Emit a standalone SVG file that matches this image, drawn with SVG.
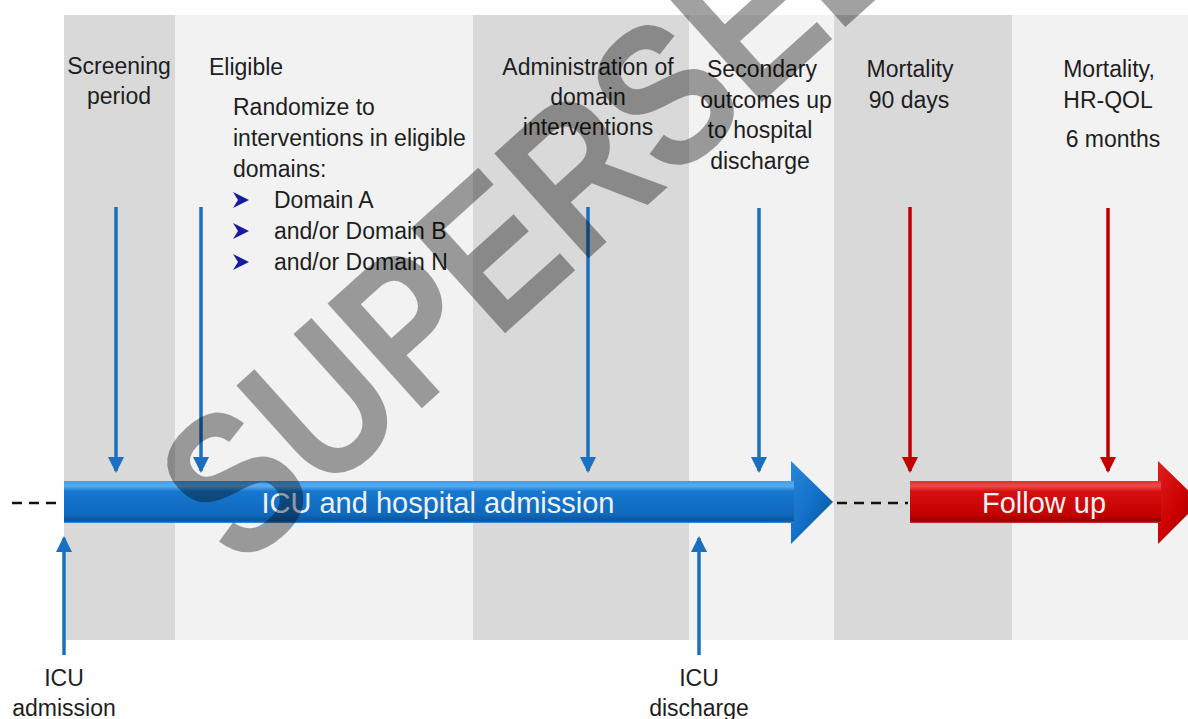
<svg xmlns="http://www.w3.org/2000/svg" width="1188" height="719" viewBox="0 0 1188 719">
<style>
.t{font-family:"Liberation Sans",Arial,sans-serif;font-size:23px;fill:#1e1e1e}
.c{text-anchor:middle}
.big{font-family:"Liberation Sans",Arial,sans-serif;font-size:29px;fill:#f0f2f4;text-anchor:middle}
.dk{fill:#d9d9d9}
.lt{fill:#f2f2f2}
.vb{stroke:#1a6fc0;stroke-width:3.5;fill:none}
.vr{stroke:#c00000;stroke-width:3.5;fill:none}
.dash{stroke:#111;stroke-width:2.5;stroke-dasharray:10 7;fill:none}
.bul{fill:#1a1a9c}
.wm{font-family:"Liberation Sans",Arial,sans-serif;font-weight:bold;font-size:205px;fill:#000;fill-opacity:0.37}
</style>
<defs>
<marker id="ab" viewBox="0 0 16 16" refX="14" refY="8" markerWidth="16" markerHeight="16" markerUnits="userSpaceOnUse" orient="auto">
<path d="M0,0 L16,8 L0,16 Z" fill="#1a6fc0"/>
</marker>
<marker id="ar" viewBox="0 0 16 16" refX="14" refY="8" markerWidth="16" markerHeight="16" markerUnits="userSpaceOnUse" orient="auto">
<path d="M0,0 L16,8 L0,16 Z" fill="#c00000"/>
</marker>
<linearGradient id="gb" x1="0" y1="481" x2="0" y2="523" gradientUnits="userSpaceOnUse">
<stop offset="0" stop-color="#3f9be6"/>
<stop offset="0.12" stop-color="#5aaced"/>
<stop offset="0.25" stop-color="#1677cf"/>
<stop offset="0.8" stop-color="#1069bd"/>
<stop offset="0.95" stop-color="#0a559f"/>
<stop offset="1" stop-color="#3a8fd8"/>
</linearGradient>
<linearGradient id="gbh" x1="0" y1="0" x2="1" y2="1">
<stop offset="0" stop-color="#2a86d8"/>
<stop offset="0.5" stop-color="#1170c8"/>
<stop offset="1" stop-color="#0a4f92"/>
</linearGradient>
<linearGradient id="gr" x1="0" y1="481" x2="0" y2="523" gradientUnits="userSpaceOnUse">
<stop offset="0" stop-color="#e03030"/>
<stop offset="0.12" stop-color="#ee4a4a"/>
<stop offset="0.25" stop-color="#d60f0f"/>
<stop offset="0.8" stop-color="#c40000"/>
<stop offset="0.95" stop-color="#990000"/>
<stop offset="1" stop-color="#d03030"/>
</linearGradient>
<linearGradient id="grh" x1="0" y1="0" x2="1" y2="1">
<stop offset="0" stop-color="#e02020"/>
<stop offset="0.5" stop-color="#cc0000"/>
<stop offset="1" stop-color="#8a0000"/>
</linearGradient>
</defs>
<rect width="1188" height="719" fill="#ffffff"/>
<g id="bands">
<rect class="dk" x="64" y="15" width="111" height="625"/>
<rect class="lt" x="175" y="15" width="298" height="625"/>
<rect class="dk" x="473" y="15" width="216" height="625"/>
<rect class="lt" x="689" y="15" width="145" height="625"/>
<rect class="dk" x="834" y="15" width="178" height="625"/>
<rect class="lt" x="1012" y="15" width="176" height="625"/>
</g>
<g id="connectors">
<line class="dash" x1="12" y1="503" x2="62" y2="503"/>
<line class="dash" x1="837" y1="503" x2="908" y2="503"/>
<line class="vb" x1="116" y1="207" x2="116" y2="471" marker-end="url(#ab)"/>
<line class="vb" x1="201" y1="207" x2="201" y2="471" marker-end="url(#ab)"/>
<line class="vb" x1="588" y1="207" x2="588" y2="471" marker-end="url(#ab)"/>
<line class="vb" x1="759" y1="208" x2="759" y2="471" marker-end="url(#ab)"/>
<line class="vr" x1="910" y1="207" x2="910" y2="471" marker-end="url(#ar)"/>
<line class="vr" x1="1108" y1="208" x2="1108" y2="471" marker-end="url(#ar)"/>
<line class="vb" x1="64" y1="655" x2="64" y2="538" marker-end="url(#ab)"/>
<line class="vb" x1="699" y1="655" x2="699" y2="538" marker-end="url(#ab)"/>
</g>
<g id="icu-arrow">
<polygon points="791,461 833,502 791,544" fill="url(#gbh)"/>
<rect x="64" y="481" width="730" height="42" fill="url(#gb)"/>
<text class="big" x="438" y="513">ICU and hospital admission</text>
</g>
<g id="followup-arrow">
<polygon points="1158,461 1200,502 1158,544" fill="url(#grh)"/>
<rect x="910" y="481" width="251" height="42" fill="url(#gr)"/>
<text class="big" x="1044" y="513">Follow up</text>
</g>
<g id="screening">
<text class="t c" x="119" y="74">Screening</text>
<text class="t c" x="119" y="104">period</text>
</g>
<g id="eligible">
<text class="t" x="209" y="75">Eligible</text>
<text class="t" x="233" y="115">Randomize to</text>
<text class="t" x="233" y="146">interventions in eligible</text>
<text class="t" x="233" y="177">domains:</text>
<polygon class="bul" points="233,192 249,200 233,208 238,200"/>
<polygon class="bul" points="233,223 249,231 233,239 238,231"/>
<polygon class="bul" points="233,254 249,262 233,270 238,262"/>
<text class="t" x="274" y="208">Domain A</text>
<text class="t" x="274" y="239">and/or Domain B</text>
<text class="t" x="274" y="270">and/or Domain N</text>
</g>
<g id="administration">
<text class="t c" x="588" y="75">Administration of</text>
<text class="t c" x="588" y="105">domain</text>
<text class="t c" x="588" y="135">interventions</text>
</g>
<g id="secondary">
<text class="t c" x="762" y="77">Secondary</text>
<text class="t c" x="766" y="108">outcomes up</text>
<text class="t c" x="760" y="138">to hospital</text>
<text class="t c" x="760" y="169">discharge</text>
</g>
<g id="mortality90">
<text class="t c" x="910" y="77">Mortality</text>
<text class="t c" x="909" y="108">90 days</text>
</g>
<g id="mortality6m">
<text class="t c" x="1109" y="77">Mortality,</text>
<text class="t c" x="1108" y="108">HR-QOL</text>
<text class="t c" x="1113" y="147">6 months</text>
</g>
<g id="icu-admission">
<text class="t c" x="64" y="686">ICU</text>
<text class="t c" x="64" y="716">admission</text>
</g>
<g id="icu-discharge">
<text class="t c" x="699" y="686">ICU</text>
<text class="t c" x="699" y="716">discharge</text>
</g>
<g id="watermark">
<text class="wm" transform="translate(240,572) rotate(-42) scale(0.82,1)">SUPERSEDED</text>
</g>
</svg>
